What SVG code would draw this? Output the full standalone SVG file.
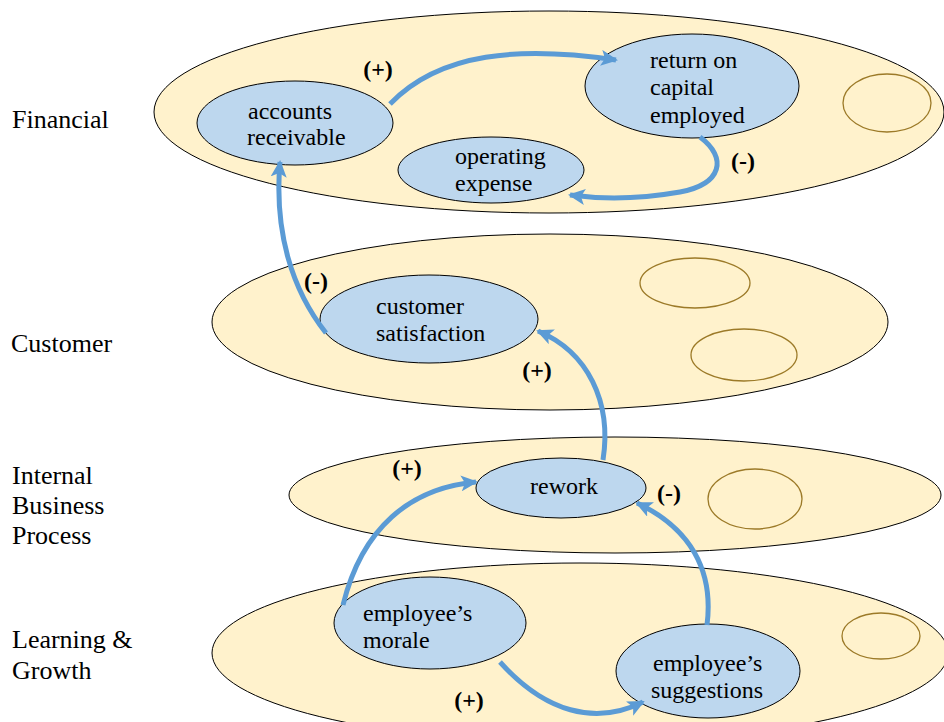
<svg xmlns="http://www.w3.org/2000/svg" width="944" height="722" viewBox="0 0 944 722">
<style>
.layer{fill:#fff2cc;stroke:#000;stroke-width:1}
.node{fill:#bdd7ee;stroke:#000;stroke-width:1}
.empty{fill:none;stroke:#9c7a28;stroke-width:1.3}
.lbl{font-family:"Liberation Serif",serif;font-size:26px;fill:#000}
.nt{font-family:"Liberation Serif",serif;font-size:24px;fill:#000}
.sign{font-family:"Liberation Serif",serif;font-size:24px;font-weight:bold;fill:#000;text-anchor:middle}
.conn{fill:none;stroke:#5b9bd5;stroke-width:5;marker-end:url(#arr)}
</style>
<defs>
<marker id="arr" markerUnits="userSpaceOnUse" markerWidth="18" markerHeight="16" refX="15" refY="8" orient="auto">
<path d="M0,0 L17,8 L0,16 L4,8 Z" fill="#5b9bd5"/>
</marker>
</defs>
<rect width="944" height="722" fill="#fff"/>
<g id="layer-financial"><ellipse class="layer" cx="549" cy="112" rx="395" ry="101"/><text class="lbl" x="12" y="128">Financial</text></g>
<g id="layer-customer"><ellipse class="layer" cx="550" cy="322" rx="338" ry="88"/><text class="lbl" x="11" y="352">Customer</text></g>
<g id="layer-internal"><ellipse class="layer" cx="615" cy="495" rx="326" ry="58"/><text class="lbl" x="12" y="484">Internal</text><text class="lbl" x="12" y="514">Business</text><text class="lbl" x="12" y="544">Process</text></g>
<g id="layer-learning"><ellipse class="layer" cx="580" cy="653" rx="368" ry="90"/><text class="lbl" x="12" y="648">Learning &amp;</text><text class="lbl" x="12" y="679">Growth</text></g>
<g id="empty-1"><ellipse class="empty" cx="887" cy="103" rx="44" ry="29"/></g>
<g id="empty-2"><ellipse class="empty" cx="695" cy="283" rx="55" ry="25"/></g>
<g id="empty-3"><ellipse class="empty" cx="744" cy="355" rx="53" ry="26"/></g>
<g id="empty-4"><ellipse class="empty" cx="755" cy="499" rx="47" ry="30"/></g>
<g id="empty-5"><ellipse class="empty" cx="881" cy="636" rx="39" ry="23"/></g>
<g id="accounts-receivable"><ellipse class="node" cx="295" cy="123" rx="98" ry="42"/><text class="nt" x="248" y="119">accounts</text><text class="nt" x="247" y="145">receivable</text></g>
<g id="return-on-capital"><ellipse class="node" cx="692" cy="86" rx="107" ry="52"/><text class="nt" x="650" y="68">return on</text><text class="nt" x="650" y="95">capital</text><text class="nt" x="650" y="123">employed</text></g>
<g id="operating-expense"><ellipse class="node" cx="491" cy="170" rx="93" ry="33"/><text class="nt" x="455" y="164">operating</text><text class="nt" x="455" y="191">expense</text></g>
<g id="customer-satisfaction"><ellipse class="node" cx="429" cy="319" rx="109" ry="44"/><text class="nt" x="376" y="314">customer</text><text class="nt" x="376" y="341">satisfaction</text></g>
<g id="rework"><ellipse class="node" cx="561" cy="488" rx="85" ry="30"/><text class="nt" x="530" y="494">rework</text></g>
<g id="employee-morale"><ellipse class="node" cx="430" cy="623" rx="96" ry="46"/><text class="nt" x="363" y="621">employee’s</text><text class="nt" x="363" y="648">morale</text></g>
<g id="employee-suggestions"><ellipse class="node" cx="708" cy="671" rx="92" ry="47"/><text class="nt" x="653" y="671">employee’s</text><text class="nt" x="651" y="698">suggestions</text></g>
<g id="connectors">
<path class="conn" d="M390,104 C440,52 520,46 616,60"/>
<path class="conn" d="M700,137 C728,158 722,184 680,192 C640,199 600,199 570,195"/>
<path class="conn" d="M326,333 C292,290 274,232 280,162"/>
<path class="conn" d="M603,460 C612,402 588,352 538,331"/>
<path class="conn" d="M343,605 C362,528 410,488 476,482"/>
<path class="conn" d="M707,625 C714,570 690,528 637,503"/>
<path class="conn" d="M500,662 C545,712 595,726 643,702"/>
</g>
<g id="signs">
<text class="sign" x="378" y="77">(+)</text>
<text class="sign" x="743" y="169">(-)</text>
<text class="sign" x="316" y="289">(-)</text>
<text class="sign" x="537" y="378">(+)</text>
<text class="sign" x="407" y="476">(+)</text>
<text class="sign" x="669" y="501">(-)</text>
<text class="sign" x="469" y="708">(+)</text>
</g>
</svg>
